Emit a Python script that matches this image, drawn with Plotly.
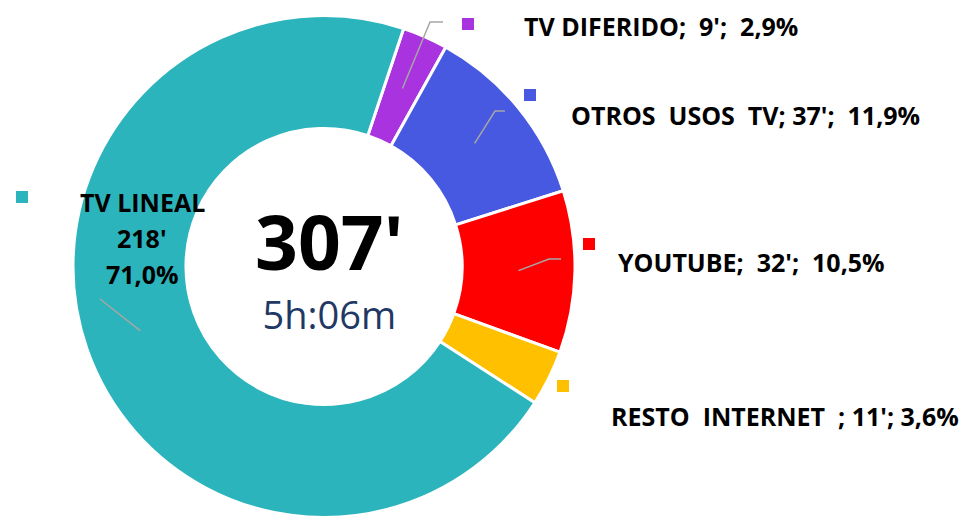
import math
import plotly.graph_objects as go

W, H = 975, 521

categories = ["TV DIFERIDO", "OTROS USOS TV", "YOUTUBE", "RESTO INTERNET ", "TV LINEAL"]
minutes = [9, 37, 32, 11, 218]
percent_labels = ["2,9%", "11,9%", "10,5%", "3,6%", "71,0%"]
colors = ["#A933DF", "#4659E0", "#FF0000", "#FFC000", "#2BB4BC"]
total_label = "307'"
total_hours = "5h:06m"

# pie geometry (pixels)
CX, CY, R = 324, 266.5, 251
ROT = 18.5

def px(x):
    return x / W

def py(y):
    return 1 - y / H

fig = go.Figure(go.Pie(
    labels=categories,
    values=minutes,
    sort=False,
    direction="clockwise",
    rotation=ROT,
    hole=0.55,
    marker=dict(colors=colors, line=dict(color="white", width=3)),
    textinfo="none",
    hoverinfo="label+value+percent",
    domain=dict(x=[px(CX - R), px(CX + R)], y=[py(CY + R), py(CY - R)]),
    showlegend=False,
))

FONT = "Open Sans"
FS = 25

# label layout (pixels): text left x, text center y, key square center, leader end points
label_layout = {
    "TV DIFERIDO": dict(tx=522, ty=26, kx=468, ky=24, leader=[(430, 22), (443, 22)],
                        text="TV DIFERIDO;  9';  2,9%"),
    "OTROS USOS TV": dict(tx=569, ty=115, kx=530, ky=95, leader=[(495, 111), (505, 111)],
                          text="OTROS  USOS  TV; 37';  11,9%"),
    "YOUTUBE": dict(tx=616, ty=262, kx=589, ky=244, leader=[(549, 259), (561, 259)],
                    text="YOUTUBE;  32';  10,5%"),
    "RESTO INTERNET ": dict(tx=609, ty=416, kx=563, ky=386, leader=None,
                            text="RESTO  INTERNET  ; 11'; 3,6%"),
}

total = sum(minutes)
shapes = []
annotations = []
cum = 0
for cat, val, pct, col in zip(categories, minutes, percent_labels, colors):
    mid = ROT + (cum + val / 2) / total * 360
    cum += val
    ang = math.radians(mid)
    sx = CX + 0.775 * R * math.sin(ang)
    sy = CY - 0.775 * R * math.cos(ang)
    if cat in label_layout:
        L = label_layout[cat]
        annotations.append(dict(x=px(L["tx"]), y=py(L["ty"]), xref="paper", yref="paper",
                                text=f"<b>{L['text']}</b>", showarrow=False, xanchor="left",
                                yanchor="middle", font=dict(family=FONT, size=FS, color="black")))
        kx, ky = L["kx"], L["ky"]
        kpts = L["leader"]
    else:
        kx, ky = 22, 197
        for i, t in enumerate([cat, f"{val}'", pct]):
            annotations.append(dict(x=px(142), y=py(202 + 36 * i), xref="paper", yref="paper",
                                    text=f"<b>{t}</b>", showarrow=False, xanchor="center",
                                    yanchor="middle", font=dict(family=FONT, size=FS, color="black")))
        kpts = [(100, 299)]
    shapes.append(dict(type="rect", xref="paper", yref="paper",
                       x0=px(kx - 6), x1=px(kx + 6), y0=py(ky + 6), y1=py(ky - 6),
                       fillcolor=col, line=dict(width=0)))
    if kpts:
        path_pts = [(sx, sy)] + kpts
        path = "M " + " L ".join(f"{px(x)},{py(y)}" for x, y in path_pts)
        shapes.append(dict(type="path", xref="paper", yref="paper", path=path,
                           line=dict(color="#A6A6A6", width=1.5)))

center_text = (f"<span style='font-size:75px'><b>{total_label}</b></span><br>"
               f"<span style='font-size:38px;color:#1F3864'>{total_hours}</span>")
annotations.append(dict(x=px(329), y=py(265), xref="paper", yref="paper", text=center_text,
                        showarrow=False, xanchor="center", yanchor="middle",
                        font=dict(family=FONT, size=45, color="black")))

fig.update_layout(
    width=W, height=H,
    margin=dict(l=0, r=0, t=0, b=0),
    paper_bgcolor="white", plot_bgcolor="white",
    shapes=shapes, annotations=annotations,
)

fig.write_html("out.html", config={"displayModeBar": False},
               post_script="document.body.style.margin='0';document.body.style.padding='0';")
